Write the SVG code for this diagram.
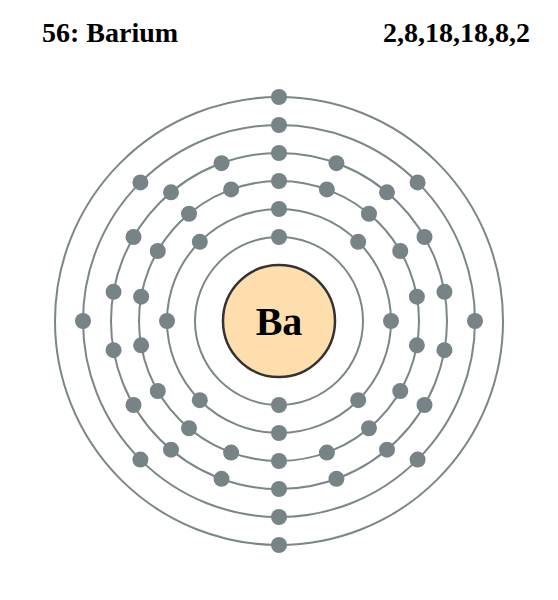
<svg xmlns="http://www.w3.org/2000/svg" width="558" height="600" viewBox="0 0 558 600">
<style>
.shell{fill:none;stroke:#7a8688;stroke-width:2}
.e{fill:#778487}
.title{font-family:"Liberation Serif","Times New Roman",serif;font-weight:bold;font-size:28px;fill:#000}
.sym{font-family:"Liberation Serif","Times New Roman",serif;font-weight:bold;font-size:40px;fill:#000}
</style>
<rect width="558" height="600" fill="#fff"/>
<text class="title" x="42" y="42">56: Barium</text>
<text class="title" x="530" y="42" text-anchor="end">2,8,18,18,8,2</text>
<g id="shells">
<circle class="shell" cx="279" cy="321" r="84"/>
<circle class="shell" cx="279" cy="321" r="112"/>
<circle class="shell" cx="279" cy="321" r="140"/>
<circle class="shell" cx="279" cy="321" r="168"/>
<circle class="shell" cx="279" cy="321" r="196"/>
<circle class="shell" cx="279" cy="321" r="224"/>
</g>
<g id="nucleus">
<circle cx="279" cy="321" r="56" fill="#ffdead" stroke="#333" stroke-width="2.5"/>
<text class="sym" x="279" y="335" text-anchor="middle">Ba</text>
</g>
<g id="shell1-electrons">
<circle class="e" cx="279" cy="237" r="8"/>
<circle class="e" cx="279" cy="405" r="8"/>
</g>
<g id="shell2-electrons">
<circle class="e" cx="279" cy="209" r="8"/>
<circle class="e" cx="358.2" cy="241.8" r="8"/>
<circle class="e" cx="391" cy="321" r="8"/>
<circle class="e" cx="358.2" cy="400.2" r="8"/>
<circle class="e" cx="279" cy="433" r="8"/>
<circle class="e" cx="199.8" cy="400.2" r="8"/>
<circle class="e" cx="167" cy="321" r="8"/>
<circle class="e" cx="199.8" cy="241.8" r="8"/>
</g>
<g id="shell3-electrons">
<circle class="e" cx="279" cy="181" r="8"/>
<circle class="e" cx="326.88" cy="189.44" r="8"/>
<circle class="e" cx="368.99" cy="213.75" r="8"/>
<circle class="e" cx="400.24" cy="251" r="8"/>
<circle class="e" cx="416.87" cy="296.69" r="8"/>
<circle class="e" cx="416.87" cy="345.31" r="8"/>
<circle class="e" cx="400.24" cy="391" r="8"/>
<circle class="e" cx="368.99" cy="428.25" r="8"/>
<circle class="e" cx="326.88" cy="452.56" r="8"/>
<circle class="e" cx="279" cy="461" r="8"/>
<circle class="e" cx="231.12" cy="452.56" r="8"/>
<circle class="e" cx="189.01" cy="428.25" r="8"/>
<circle class="e" cx="157.76" cy="391" r="8"/>
<circle class="e" cx="141.13" cy="345.31" r="8"/>
<circle class="e" cx="141.13" cy="296.69" r="8"/>
<circle class="e" cx="157.76" cy="251" r="8"/>
<circle class="e" cx="189.01" cy="213.75" r="8"/>
<circle class="e" cx="231.12" cy="189.44" r="8"/>
</g>
<g id="shell4-electrons">
<circle class="e" cx="279" cy="153" r="8"/>
<circle class="e" cx="336.46" cy="163.13" r="8"/>
<circle class="e" cx="386.99" cy="192.31" r="8"/>
<circle class="e" cx="424.49" cy="237" r="8"/>
<circle class="e" cx="444.45" cy="291.83" r="8"/>
<circle class="e" cx="444.45" cy="350.17" r="8"/>
<circle class="e" cx="424.49" cy="405" r="8"/>
<circle class="e" cx="386.99" cy="449.69" r="8"/>
<circle class="e" cx="336.46" cy="478.87" r="8"/>
<circle class="e" cx="279" cy="489" r="8"/>
<circle class="e" cx="221.54" cy="478.87" r="8"/>
<circle class="e" cx="171.01" cy="449.69" r="8"/>
<circle class="e" cx="133.51" cy="405" r="8"/>
<circle class="e" cx="113.55" cy="350.17" r="8"/>
<circle class="e" cx="113.55" cy="291.83" r="8"/>
<circle class="e" cx="133.51" cy="237" r="8"/>
<circle class="e" cx="171.01" cy="192.31" r="8"/>
<circle class="e" cx="221.54" cy="163.13" r="8"/>
</g>
<g id="shell5-electrons">
<circle class="e" cx="279" cy="125" r="8"/>
<circle class="e" cx="417.59" cy="182.41" r="8"/>
<circle class="e" cx="475" cy="321" r="8"/>
<circle class="e" cx="417.59" cy="459.59" r="8"/>
<circle class="e" cx="279" cy="517" r="8"/>
<circle class="e" cx="140.41" cy="459.59" r="8"/>
<circle class="e" cx="83" cy="321" r="8"/>
<circle class="e" cx="140.41" cy="182.41" r="8"/>
</g>
<g id="shell6-electrons">
<circle class="e" cx="279" cy="97" r="8"/>
<circle class="e" cx="279" cy="545" r="8"/>
</g>
</svg>
